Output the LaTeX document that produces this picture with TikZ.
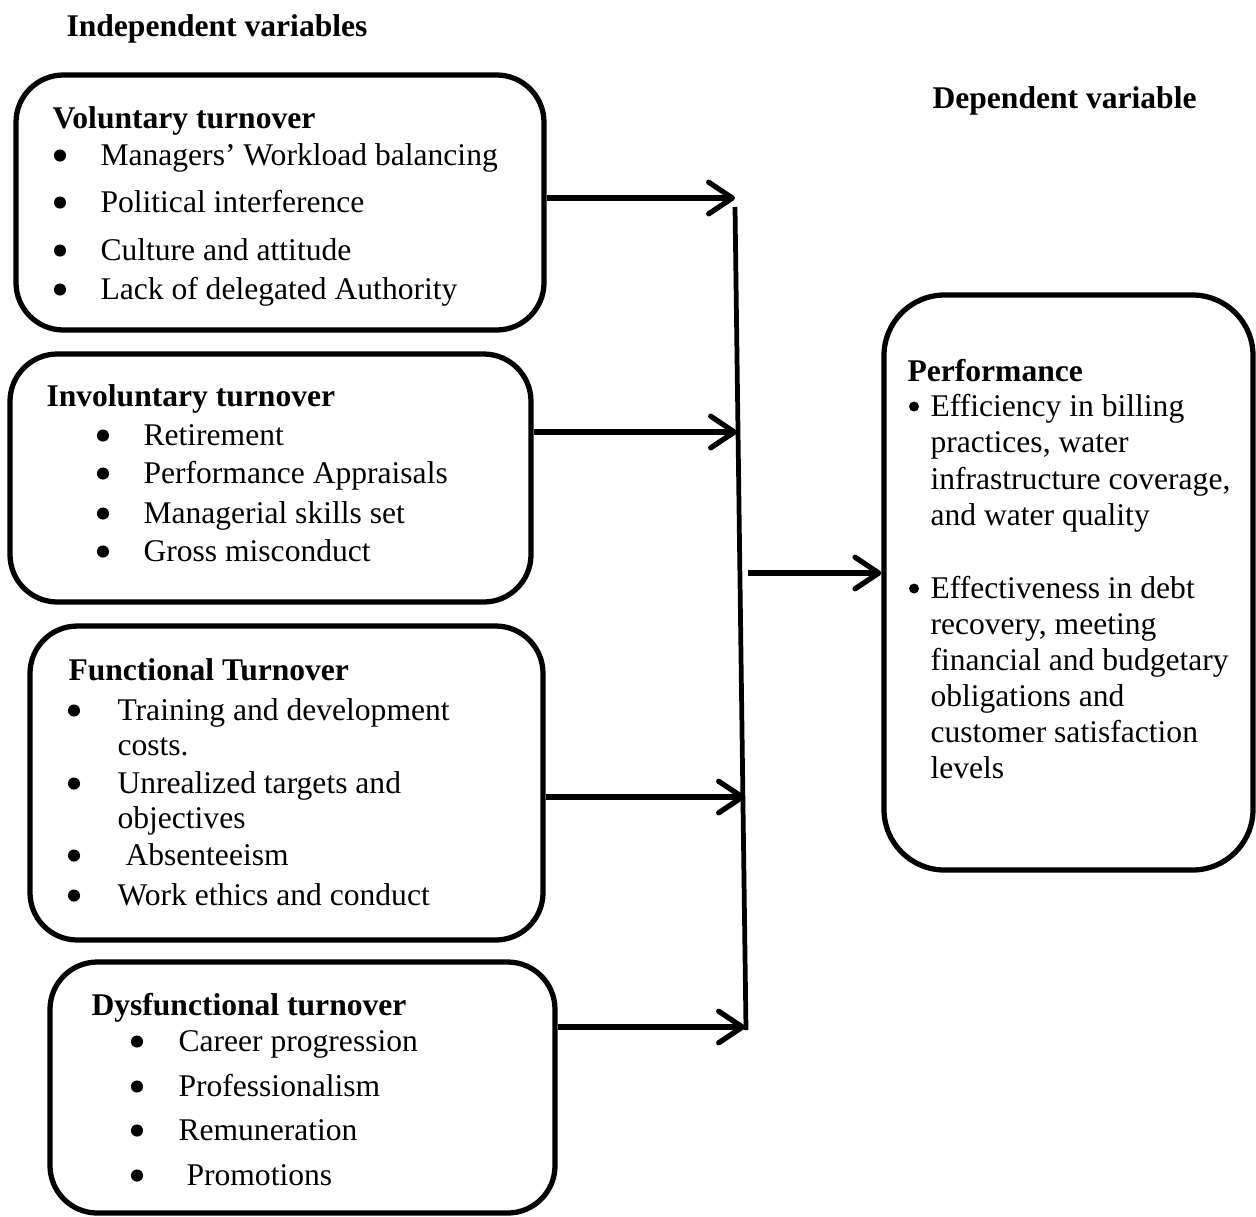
\documentclass[tikz,border=0pt]{standalone}
\usepackage{fontspec}
\setmainfont{Liberation Serif}
\usetikzlibrary{positioning,calc,fit,arrows.meta}
\tikzset{
  box/.style={draw,line width=2pt,rounded corners=18pt,inner sep=0pt},
  hd/.style={anchor=base west,inner sep=0pt,font=\fontsize{12}{14}\selectfont\bfseries},
  txt/.style={anchor=base west,inner sep=0pt,font=\fontsize{12}{14}\selectfont},
  bul/.style={circle,fill,inner sep=0pt,minimum size=4.6pt,yshift=3.6pt},
  pbul/.style={bul,minimum size=3.8pt},
  arr/.style={-{Straight Barb[length=9pt,width=12pt,round]},line width=2pt},
}
\begin{document}
\begin{tikzpicture}[x=0.38pt,y=-0.38pt]
  \useasboundingbox (0,0) rectangle (1256,1216);
  \node[hd] (indep) at (66,36) {Independent variables};
  \node[hd] (dep) at (932,108) {Dependent variable};

  \node[box,fit={(16,75) (544,330)}] (vol) {};
  \node[hd] (volh) at (52,128) {Voluntary turnover};
  \foreach \y/\lbl [count=\i] in {165/Managers’ Workload balancing,212/Political interference,260/Culture and attitude,299/Lack of delegated Authority}{
     \node[bul] (volb\i) at (60,\y) {};
     \node[txt] (volt\i) at (100,\y) {\lbl};
  }

  \node[box,fit={(10,354) (531,602)}] (inv) {};
  \node[hd] (invh) at (46,406) {Involuntary turnover};
  \foreach \y/\lbl [count=\i] in {445/Retirement,483/Performance Appraisals,523/Managerial skills set,561/Gross misconduct}{
     \node[bul] (invb\i) at (103,\y) {};
     \node[txt] (invt\i) at (143,\y) {\lbl};
  }

  \node[box,fit={(30,626) (543,940)}] (fun) {};
  \node[hd] (funh) at (68,680) {Functional Turnover};
  \foreach \y in {720,793,865,905}
     \node[bul] (funb\y) at (74,\y) {};
  \foreach \y/\lbl [count=\i] in {720/Training and development,755/costs.,793/Unrealized targets and,828/objectives,905/Work ethics and conduct}
     \node[txt] (funt\i) at (117,\y) {\lbl};
  \node[txt] (funabs) at (125,865) {Absenteeism};

  \node[box,fit={(50,962) (555,1213)}] (dys) {};
  \node[hd] (dysh) at (91,1015) {Dysfunctional turnover};
  \foreach \y/\lbl [count=\i] in {1051/Career progression,1096/Professionalism,1140/Remuneration}{
     \node[bul] (dysb\i) at (137,\y) {};
     \node[txt] (dyst\i) at (178,\y) {\lbl};
  }
  \node[bul] (dysb4) at (137,1185) {};
  \node[txt] (dyst4) at (186,1185) {Promotions};

  \node[box,rounded corners=23pt,fit={(884,295) (1253,870)}] (perf) {};
  \node[hd] (perfh) at (907,381) {Performance};
  \node[pbul] (perfb1) at (914,416) {};
  \node[pbul] (perfb2) at (914,598) {};
  \foreach \y/\lbl [count=\i] in {416/Efficiency in billing,452/{practices, water},489/{infrastructure coverage,},525/and water quality,598/Effectiveness in debt,634/{recovery, meeting},670/financial and budgetary,706/obligations and,742/customer satisfaction,778/levels}
     \node[txt] (perft\i) at (930,\y) {\lbl};

  \coordinate (vtop) at (735,207);
  \coordinate (vbot) at (746,1030);
  \draw[line width=1.8pt] (vtop) -- (vbot);
  \coordinate (t1) at (735,198);
  \coordinate (t2) at (737,432);
  \coordinate (t3) at (745,797);
  \coordinate (t4) at (745,1027);
  \foreach \a/\b in {vol/t1,inv/t2,fun/t3,dys/t4}
     \draw[arr] (\a.east |- \b) -- (\b);
  \coordinate (mid) at (748,573);
  \draw[arr] (mid) -- (perf.west |- mid);
\end{tikzpicture}
\end{document}
